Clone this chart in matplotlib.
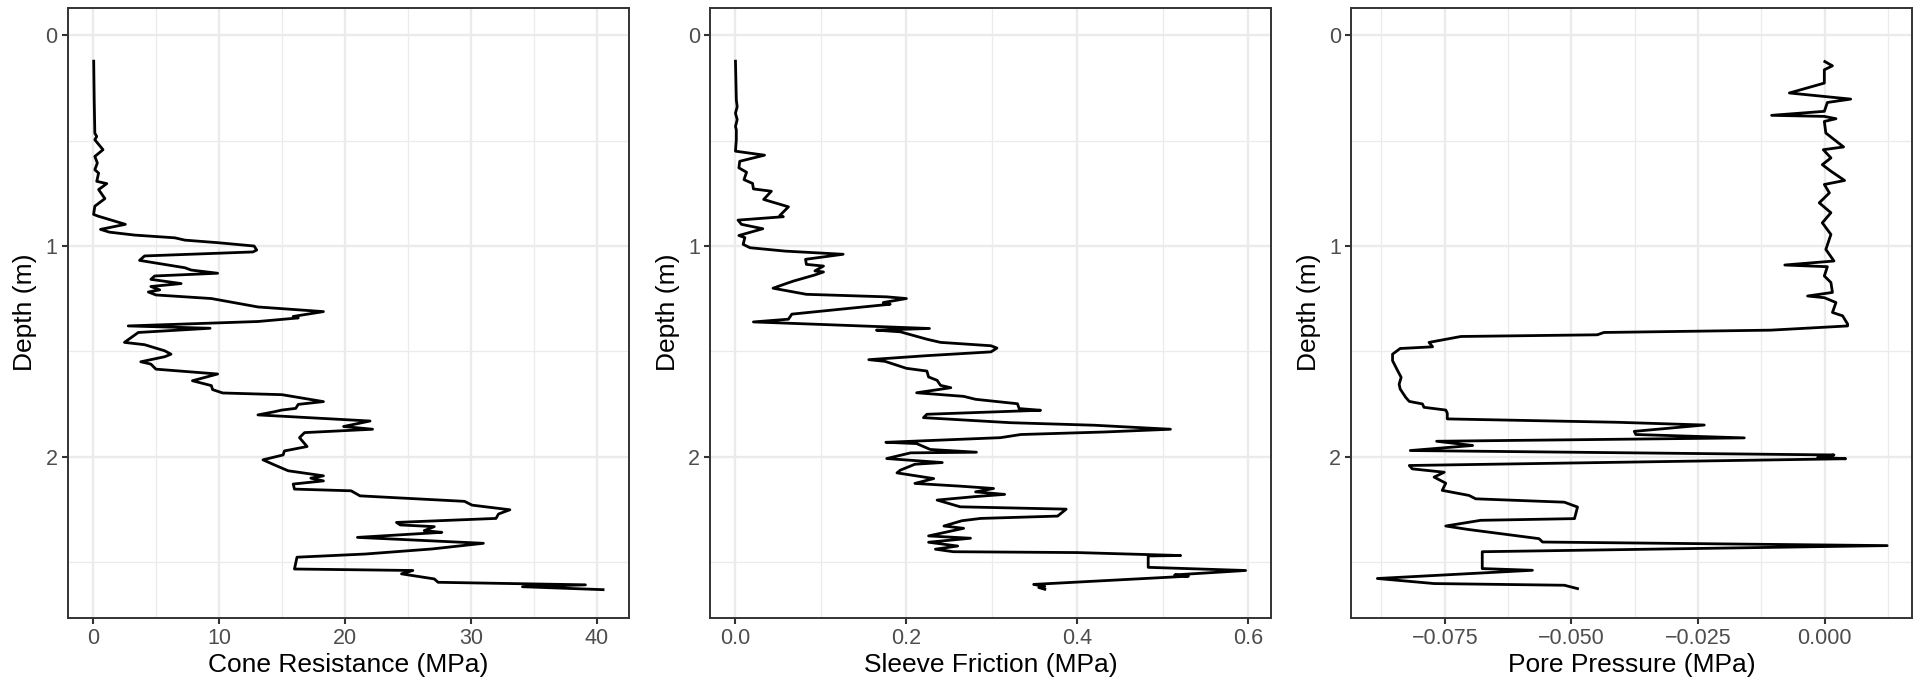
import matplotlib
matplotlib.use("Agg")
import matplotlib.pyplot as plt
from matplotlib.ticker import FixedLocator

plt.rcParams['font.family'] = ['Liberation Sans', 'DejaVu Sans']

# ---------------- data ----------------
depth_qc = [0.123, 0.307, 0.465, 0.48, 0.496, 0.543, 0.575, 0.606, 0.638, 0.654,
            0.693, 0.704, 0.732, 0.775, 0.811, 0.850, 0.858, 0.897, 0.921, 0.934,
            0.948, 0.961, 0.972, 0.984, 1.0, 1.019, 1.028, 1.047, 1.068, 1.103,
            1.114, 1.129, 1.142, 1.158, 1.178, 1.192, 1.208, 1.218, 1.232, 1.249,
            1.289, 1.311, 1.334, 1.341, 1.358, 1.379, 1.390, 1.41, 1.457, 1.468,
            1.497, 1.513, 1.525, 1.549, 1.56, 1.584, 1.607, 1.639, 1.662, 1.681,
            1.697, 1.705, 1.738, 1.751, 1.770, 1.778, 1.786, 1.801, 1.830, 1.856,
            1.869, 1.885, 1.909, 1.951, 1.972, 1.991, 2.014, 2.038, 2.066, 2.09,
            2.101, 2.114, 2.129, 2.153, 2.161, 2.185, 2.211, 2.229, 2.251, 2.271,
            2.292, 2.311, 2.323, 2.331, 2.350, 2.358, 2.382, 2.41, 2.437, 2.461,
            2.476, 2.532, 2.539, 2.555, 2.579, 2.595, 2.607, 2.616, 2.63]
cone_resistance = [0.06, 0.1, 0.15, 0.3, 0.15, 0.8, 0.15, 0.35, 0.15, 0.45,
                   0.3, 1.1, 0.45, 0.95, 0.15, 0.05, 0.4, 2.57, 0.6, 1.3,
                   3.3, 6.5, 7.3, 9.9, 12.8, 13.0, 12.7, 4.1, 3.7, 7.3,
                   7.8, 9.9, 4.9, 4.6, 7.0, 4.6, 5.3, 4.4, 5.0, 9.4,
                   13.1, 18.3, 15.9, 16.3, 13.1, 2.8, 9.3, 3.6, 2.5, 4.1,
                   5.7, 6.2, 5.7, 3.8, 4.6, 5.0, 9.9, 7.9, 9.4, 9.5,
                   10.3, 15.0, 18.3, 16.3, 16.1, 15.0, 14.4, 13.1, 22.0, 19.9,
                   22.2, 16.8, 16.4, 17.0, 15.2, 15.1, 13.5, 14.4, 15.5, 18.3,
                   17.3, 18.3, 15.9, 16.0, 20.5, 21.2, 29.5, 30.1, 33.1, 32.2,
                   32.0, 24.1, 24.4, 27.1, 26.3, 27.7, 21.0, 31.0, 26.9, 21.6,
                   16.2, 16.0, 25.4, 24.5, 27.1, 27.4, 39.1, 34.1, 40.5]

depth_fs = [0.123, 0.307, 0.339, 0.37, 0.40, 0.433, 0.448, 0.495, 0.55, 0.569,
            0.598, 0.629, 0.65, 0.685, 0.703, 0.729, 0.74, 0.779, 0.814, 0.855,
            0.861, 0.877, 0.897, 0.918, 0.95, 0.96, 0.992, 1.008, 1.024, 1.028,
            1.039, 1.063, 1.087, 1.095, 1.118, 1.123, 1.137, 1.166, 1.177, 1.2,
            1.229, 1.241, 1.249, 1.268, 1.276, 1.323, 1.347, 1.36, 1.391, 1.399,
            1.407, 1.442, 1.457, 1.473, 1.484, 1.502, 1.52, 1.539, 1.547, 1.58,
            1.593, 1.621, 1.637, 1.661, 1.672, 1.696, 1.713, 1.727, 1.748, 1.771,
            1.779, 1.798, 1.814, 1.838, 1.85, 1.869, 1.882, 1.894, 1.909, 1.931,
            1.937, 1.965, 1.978, 1.981, 2.008, 2.027, 2.035, 2.063, 2.076, 2.103,
            2.126, 2.139, 2.15, 2.166, 2.178, 2.189, 2.205, 2.237, 2.248, 2.281,
            2.292, 2.303, 2.328, 2.339, 2.375, 2.386, 2.405, 2.423, 2.438, 2.45,
            2.454, 2.468, 2.47, 2.524, 2.539, 2.56, 2.566, 2.605, 2.615, 2.62, 2.628]
sleeve_friction = [0.0, 0.001, 0.002, 0.0, 0.002, 0.0, 0.001, 0.001, 0.0, 0.034,
                   0.005, 0.004, 0.013, 0.01, 0.02, 0.021, 0.042, 0.033, 0.062, 0.052,
                   0.056, 0.003, 0.007, 0.032, 0.004, 0.011, 0.009, 0.017, 0.058, 0.076,
                   0.126, 0.082, 0.083, 0.103, 0.093, 0.103, 0.093, 0.068, 0.060, 0.044,
                   0.083, 0.177, 0.2, 0.173, 0.181, 0.066, 0.062, 0.021, 0.227, 0.165,
                   0.193, 0.224, 0.24, 0.299, 0.306, 0.299, 0.224, 0.156, 0.175, 0.2,
                   0.224, 0.226, 0.236, 0.24, 0.252, 0.212, 0.267, 0.281, 0.33, 0.332,
                   0.357, 0.224, 0.22, 0.322, 0.42, 0.509, 0.432, 0.334, 0.310, 0.176,
                   0.212, 0.228, 0.282, 0.205, 0.177, 0.242, 0.21, 0.193, 0.189, 0.232,
                   0.21, 0.263, 0.302, 0.281, 0.315, 0.279, 0.236, 0.263, 0.387, 0.377,
                   0.287, 0.265, 0.244, 0.267, 0.226, 0.275, 0.226, 0.26, 0.234, 0.255,
                   0.40, 0.521, 0.483, 0.483, 0.597, 0.514, 0.53, 0.349, 0.362, 0.355, 0.362]

depth_u = [0.125, 0.145, 0.164, 0.227, 0.274, 0.303, 0.319, 0.361, 0.38, 0.385,
           0.396, 0.409, 0.464, 0.53, 0.543, 0.582, 0.614, 0.645, 0.689, 0.708,
           0.748, 0.795, 0.842, 0.89, 0.945, 1.016, 1.071, 1.09, 1.098, 1.142,
           1.173, 1.22, 1.237, 1.245, 1.268, 1.315, 1.331, 1.37, 1.379, 1.399,
           1.41, 1.421, 1.429, 1.457, 1.478, 1.486, 1.513, 1.544, 1.591, 1.623,
           1.655, 1.678, 1.718, 1.737, 1.749, 1.765, 1.778, 1.793, 1.82, 1.836,
           1.849, 1.879, 1.894, 1.91, 1.926, 1.946, 1.97, 1.991, 2.002, 2.009,
           2.041, 2.057, 2.073, 2.096, 2.125, 2.159, 2.183, 2.199, 2.215, 2.238,
           2.293, 2.301, 2.328, 2.344, 2.388, 2.404, 2.421, 2.45, 2.53, 2.538,
           2.577, 2.601, 2.609, 2.625]
pore_pressure = [0.0, 0.0015, -0.0001, -0.0001, -0.007, 0.0051, 0.0005, -0.0001, -0.0105, -0.0001,
                 0.0022, -0.0001, 0.0002, 0.0037, -0.0003, 0.0012, -0.0005, 0.0012, 0.0039, -0.0001,
                 0.0009, -0.0011, 0.0012, -0.0005, 0.0012, 0.0002, 0.0018, -0.0079, 0.0005, -0.0001,
                 0.0012, 0.0015, -0.0034, -0.0001, 0.0022, 0.0015, 0.0035, 0.0045, 0.0045, -0.0107,
                 -0.0436, -0.0449, -0.0718, -0.0781, -0.0774, -0.0838, -0.0853, -0.0853, -0.0843, -0.0836,
                 -0.084, -0.0838, -0.0827, -0.082, -0.0794, -0.0791, -0.0748, -0.0745, -0.0745, -0.0409,
                 -0.0238, -0.0376, -0.0373, -0.0159, -0.0766, -0.0695, -0.0818, 0.0018, -0.0014, 0.0041,
                 -0.082, -0.0814, -0.0751, -0.0771, -0.0748, -0.0755, -0.0702, -0.0689, -0.0514, -0.0488,
                 -0.0494, -0.0679, -0.0748, -0.0705, -0.0564, -0.0557, 0.0123, -0.0676, -0.0676, -0.0577,
                 -0.0883, -0.0771, -0.0514, -0.0488]

x_titles = ["Cone Resistance (MPa)", "Sleeve Friction (MPa)", "Pore Pressure (MPa)"]
x_major = [[0, 10, 20, 30, 40], [0.0, 0.2, 0.4, 0.6], [-0.075, -0.050, -0.025, 0.000]]
x_major_labels = [["0", "10", "20", "30", "40"], ["0.0", "0.2", "0.4", "0.6"],
                  ["\u22120.075", "\u22120.050", "\u22120.025", "0.000"]]
x_minor = [[5, 15, 25, 35], [0.1, 0.3, 0.5], [-0.0875, -0.0625, -0.0375, -0.0125, 0.0125]]
x_limits = [(-2.02, 42.52), (-0.0298, 0.6267), (-0.0935, 0.0172)]
y_major = [0, 1, 2]
y_minor = [0.5, 1.5, 2.5]
y_limits = (2.762, -0.1315)

series = [(cone_resistance, depth_qc), (sleeve_friction, depth_fs), (pore_pressure, depth_u)]

# ---------------- figure ----------------
W, H = 1921, 683
fig = plt.figure(figsize=(W / 100, H / 100), dpi=100)
lefts_px = [67.5, 710.0, 1351.0]
panel_w = 561.0
top_px, bot_px = 7.5, 617.5

grey20 = "#333333"
grey30 = "#4D4D4D"
grey92 = "#EBEBEB"

for i, (vals, deps) in enumerate(series):
    ax = fig.add_axes([lefts_px[i] / W, 1 - bot_px / H, panel_w / W, (bot_px - top_px) / H])
    ax.set_axisbelow(True)
    ax.plot(vals, deps, color="black", lw=2.0, solid_joinstyle="round", zorder=3)
    ax.set_xlim(*x_limits[i])
    ax.set_ylim(*y_limits)
    ax.xaxis.set_major_locator(FixedLocator(x_major[i]))
    ax.set_xticklabels(x_major_labels[i])
    ax.xaxis.set_minor_locator(FixedLocator(x_minor[i]))
    ax.yaxis.set_major_locator(FixedLocator(y_major))
    ax.set_yticklabels([str(v) for v in y_major])
    ax.yaxis.set_minor_locator(FixedLocator(y_minor))
    ax.grid(which="major", color=grey92, lw=1.7)
    ax.grid(which="minor", color=grey92, lw=0.9)
    ax.tick_params(which="major", length=4.6, width=1.5, color=grey20,
                   labelsize=15.5, labelcolor=grey30, pad=2.6)
    ax.tick_params(which="minor", length=0)
    for sp in ax.spines.values():
        sp.set_color(grey20)
        sp.set_linewidth(1.4)
        sp.set_zorder(4)
    ax.set_xlabel(x_titles[i], fontsize=19, color="black", labelpad=3.5)
    ax.set_ylabel("Depth (m)", fontsize=19, color="black", labelpad=6)

fig.savefig("out.png", dpi=100)
